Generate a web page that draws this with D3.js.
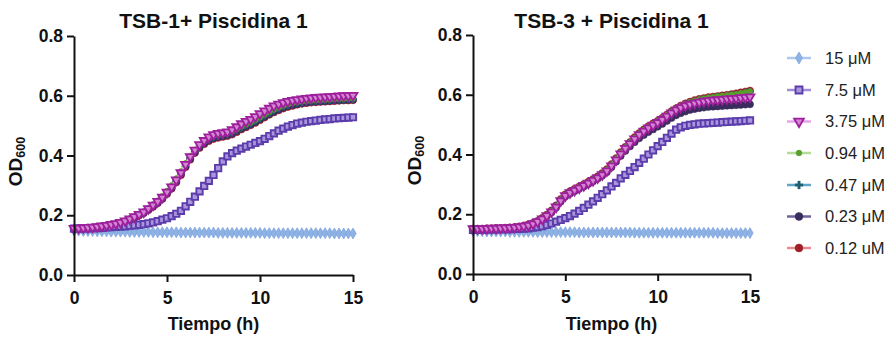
<!DOCTYPE html>
<html><head><meta charset="utf-8">
<script src="https://cdn.jsdelivr.net/npm/d3@7"></script>
<style>
html,body{margin:0;padding:0;background:#fff;}
svg{display:block;font-family:"Liberation Sans",Arial,sans-serif;}
</style></head>
<body>
<svg id="chart" width="893" height="337"></svg>
<script>
// ---- DATA ----
const times = [0,0.25,0.5,0.75,1,1.25,1.5,1.75,2,2.25,2.5,2.75,3,3.25,3.5,3.75,4,4.25,4.5,4.75,5,5.25,5.5,5.75,6,6.25,6.5,6.75,7,7.25,7.5,7.75,8,8.25,8.5,8.75,9,9.25,9.5,9.75,10,10.25,10.5,10.75,11,11.25,11.5,11.75,12,12.25,12.5,12.75,13,13.25,13.5,13.75,14,14.25,14.5,14.75,15];
const seriesNames = ["15 \u03bcM","7.5 \u03bcM","3.75 \u03bcM","0.94 \u03bcM","0.47 \u03bcM","0.23 \u03bcM","0.12 uM"];
const panelTitles = ["TSB-1+ Piscidina 1","TSB-3 + Piscidina 1"];
const xTicks = [0,5,10,15];
const yTicks = [0.0,0.2,0.4,0.6,0.8];
const xLabel = "Tiempo (h)";

// TSB-1 panel
const L15 = [0.148,0.148,0.147,0.147,0.147,0.146,0.146,0.146,0.145,0.145,
0.145,0.145,0.144,0.144,0.144,0.144,0.144,0.143,0.143,0.143,
0.143,0.143,0.143,0.142,0.142,0.142,0.142,0.142,0.142,0.142,
0.142,0.141,0.141,0.141,0.141,0.141,0.141,0.141,0.141,0.141,
0.141,0.140,0.140,0.140,0.140,0.140,0.140,0.140,0.140,0.140,
0.140,0.140,0.140,0.140,0.140,0.140,0.139,0.139,0.139,0.139,0.139];
const L75 = [0.155,0.155,0.156,0.156,0.157,0.157,0.158,0.159,0.160,0.161,
0.162,0.163,0.165,0.166,0.168,0.170,0.173,0.176,0.180,0.185,
0.190,0.197,0.205,0.215,0.230,0.245,0.262,0.280,0.298,0.315,
0.335,0.358,0.380,0.397,0.408,0.416,0.423,0.430,0.436,0.442,
0.448,0.456,0.465,0.474,0.483,0.490,0.497,0.502,0.507,0.510,
0.513,0.515,0.517,0.519,0.521,0.522,0.524,0.525,0.526,0.527,0.528];
const L375 = [0.156,0.157,0.158,0.159,0.160,0.162,0.164,0.166,0.169,0.172,
0.176,0.181,0.188,0.195,0.203,0.211,0.222,0.234,0.246,0.260,
0.277,0.295,0.318,0.342,0.370,0.396,0.418,0.436,0.450,0.462,
0.470,0.474,0.476,0.479,0.486,0.496,0.506,0.514,0.521,0.530,
0.540,0.549,0.558,0.566,0.572,0.577,0.581,0.584,0.587,0.589,
0.591,0.593,0.594,0.595,0.596,0.597,0.598,0.599,0.600,0.600,0.601];
const L094 = [0.156,0.157,0.158,0.159,0.160,0.162,0.164,0.166,0.169,0.172,
0.176,0.181,0.188,0.195,0.203,0.212,0.224,0.237,0.250,0.265,
0.282,0.301,0.324,0.348,0.375,0.399,0.420,0.436,0.448,0.458,
0.465,0.469,0.472,0.475,0.480,0.488,0.496,0.503,0.510,0.518,
0.527,0.536,0.545,0.553,0.560,0.566,0.571,0.575,0.578,0.580,
0.582,0.583,0.584,0.585,0.586,0.587,0.588,0.589,0.589,0.590,0.590];
const L047 = [0.155,0.156,0.157,0.158,0.159,0.161,0.163,0.165,0.168,0.171,
0.175,0.180,0.187,0.194,0.202,0.210,0.221,0.233,0.245,0.259,
0.276,0.294,0.316,0.340,0.367,0.392,0.414,0.431,0.444,0.454,
0.461,0.465,0.468,0.471,0.476,0.484,0.493,0.500,0.507,0.515,
0.524,0.533,0.542,0.550,0.557,0.563,0.568,0.572,0.575,0.577,
0.579,0.581,0.582,0.583,0.584,0.585,0.586,0.587,0.587,0.588,0.588];
const L023 = [0.155,0.156,0.157,0.158,0.159,0.161,0.163,0.165,0.167,0.170,
0.174,0.179,0.185,0.192,0.200,0.208,0.219,0.230,0.242,0.256,
0.273,0.291,0.313,0.337,0.364,0.389,0.411,0.428,0.441,0.451,
0.458,0.462,0.465,0.468,0.473,0.481,0.490,0.497,0.504,0.512,
0.521,0.530,0.539,0.547,0.554,0.560,0.565,0.569,0.572,0.575,
0.577,0.579,0.580,0.581,0.582,0.583,0.584,0.585,0.586,0.586,0.587];
const L012 = [0.154,0.155,0.156,0.157,0.158,0.160,0.162,0.164,0.166,0.169,
0.173,0.178,0.184,0.191,0.199,0.207,0.217,0.228,0.240,0.254,
0.271,0.289,0.310,0.334,0.361,0.386,0.408,0.425,0.438,0.448,
0.455,0.459,0.462,0.465,0.470,0.478,0.487,0.494,0.501,0.509,
0.518,0.527,0.536,0.544,0.551,0.557,0.562,0.566,0.570,0.573,
0.575,0.577,0.578,0.579,0.580,0.581,0.582,0.583,0.584,0.584,0.585];

// TSB-3 panel
const R15 = [0.143,0.143,0.143,0.142,0.142,0.142,0.142,0.142,0.141,0.141,
0.141,0.141,0.141,0.141,0.140,0.140,0.140,0.140,0.140,0.140,
0.140,0.140,0.140,0.139,0.139,0.139,0.139,0.139,0.139,0.139,
0.139,0.139,0.139,0.139,0.139,0.138,0.138,0.138,0.138,0.138,
0.138,0.138,0.138,0.138,0.138,0.138,0.138,0.138,0.138,0.138,
0.138,0.138,0.138,0.137,0.137,0.137,0.137,0.137,0.137,0.137,0.137];
const R75 = [0.148,0.148,0.148,0.149,0.149,0.149,0.150,0.150,0.150,0.151,
0.151,0.152,0.153,0.155,0.157,0.160,0.164,0.169,0.175,0.181,
0.187,0.194,0.202,0.211,0.221,0.232,0.243,0.255,0.267,0.280,
0.293,0.305,0.320,0.332,0.345,0.358,0.372,0.386,0.400,0.414,
0.428,0.442,0.456,0.470,0.483,0.491,0.496,0.499,0.501,0.503,
0.504,0.505,0.506,0.507,0.508,0.509,0.510,0.511,0.512,0.513,0.514];
const R375 = [0.152,0.152,0.152,0.152,0.153,0.153,0.154,0.154,0.155,0.156,
0.158,0.160,0.163,0.168,0.175,0.184,0.195,0.208,0.224,0.245,
0.262,0.272,0.280,0.288,0.296,0.304,0.313,0.322,0.332,0.345,
0.362,0.382,0.402,0.420,0.436,0.452,0.466,0.478,0.489,0.498,
0.507,0.517,0.528,0.539,0.549,0.557,0.563,0.568,0.572,0.575,
0.578,0.580,0.582,0.583,0.584,0.586,0.587,0.588,0.590,0.591,0.593];
const R094 = [0.152,0.152,0.152,0.152,0.153,0.153,0.154,0.155,0.156,0.157,
0.159,0.161,0.165,0.170,0.177,0.187,0.198,0.212,0.229,0.250,
0.266,0.276,0.284,0.292,0.300,0.308,0.317,0.326,0.337,0.350,
0.367,0.387,0.407,0.425,0.441,0.457,0.471,0.483,0.494,0.503,
0.512,0.522,0.533,0.544,0.554,0.563,0.570,0.576,0.581,0.585,
0.588,0.591,0.593,0.595,0.597,0.599,0.601,0.603,0.606,0.609,0.612];
const R047 = [0.151,0.151,0.151,0.152,0.152,0.153,0.153,0.154,0.155,0.156,
0.158,0.160,0.164,0.169,0.176,0.186,0.197,0.211,0.228,0.248,
0.264,0.274,0.282,0.290,0.298,0.306,0.315,0.324,0.335,0.348,
0.365,0.385,0.405,0.423,0.439,0.455,0.469,0.481,0.492,0.501,
0.510,0.520,0.531,0.542,0.552,0.561,0.568,0.574,0.579,0.583,
0.586,0.589,0.591,0.593,0.595,0.597,0.599,0.601,0.604,0.607,0.610];
const R023 = [0.150,0.150,0.150,0.151,0.151,0.152,0.152,0.153,0.154,0.155,
0.157,0.159,0.162,0.167,0.173,0.182,0.193,0.206,0.222,0.242,
0.259,0.269,0.277,0.285,0.293,0.301,0.310,0.319,0.329,0.341,
0.357,0.376,0.395,0.412,0.427,0.441,0.454,0.465,0.475,0.484,
0.493,0.502,0.512,0.522,0.531,0.538,0.544,0.549,0.552,0.555,
0.557,0.559,0.560,0.561,0.562,0.563,0.564,0.565,0.566,0.567,0.568];
const R012 = [0.152,0.152,0.152,0.153,0.153,0.154,0.154,0.155,0.156,0.157,
0.159,0.162,0.166,0.171,0.178,0.188,0.199,0.213,0.230,0.251,
0.267,0.277,0.285,0.293,0.301,0.309,0.318,0.327,0.338,0.351,
0.368,0.388,0.408,0.426,0.442,0.458,0.472,0.484,0.495,0.504,
0.513,0.523,0.534,0.545,0.555,0.564,0.571,0.577,0.582,0.586,
0.589,0.592,0.594,0.596,0.598,0.600,0.602,0.605,0.608,0.611,0.614];

const panelData = [
  [L15, L75, L375, L094, L047, L023, L012],
  [R15, R75, R375, R094, R047, R023, R012]
];

// ---- STYLES ----
const styles = [
  {line:"#adc8ee", stroke:"#7ea6de", fill:"#8fb2e4", sym:d3.symbolDiamond, size:34, rot:0, sw:0.8},
  {line:"#a18dd8", stroke:"#5b3cab", fill:"#ab96de", sym:d3.symbolSquare, size:40, rot:0, sw:1.9},
  {line:"#e6a4e8", stroke:"#9e1f9c", fill:"#d385d4", sym:d3.symbolTriangle, size:34, rot:180, sw:1.8},
  {line:"#b2dc98", stroke:"#5a9e2c", fill:"#5a9e2c", sym:d3.symbolCircle, size:22, rot:0, sw:0.5},
  {line:"#5fa6c2", stroke:"#1f5d72", fill:"#1f5d72", sym:d3.symbolCross, size:28, rot:0, sw:0.3},
  {line:"#6f659c", stroke:"#3a2c5c", fill:"#3a2c5c", sym:d3.symbolCircle, size:40, rot:0, sw:0.5},
  {line:"#e68c8c", stroke:"#a01e26", fill:"#a01e26", sym:d3.symbolCircle, size:40, rot:0, sw:0.5}
];
const drawOrder = [0,6,5,4,3,1,2];

const svg = d3.select("#chart");
const panels = [
  {x0:74, x1:353, y0:275, y1:36},
  {x0:473, x1:750, y0:274, y1:35}
];

panels.forEach((p, pi) => {
  const x = d3.scaleLinear().domain([0,15]).range([p.x0, p.x1]);
  const y = d3.scaleLinear().domain([0,0.8]).range([p.y0, p.y1]);
  const g = svg.append("g");

  // series
  drawOrder.forEach(si => {
    const vals = panelData[pi][si];
    const st = styles[si];
    const pts = times.map((t,i) => [t, vals[i]]);
    g.append("path")
      .attr("d", d3.line().x(d=>x(d[0])).y(d=>y(d[1]))(pts))
      .attr("fill","none").attr("stroke", st.line).attr("stroke-width",2);
    const sym = d3.symbol().type(st.sym).size(st.size);
    g.append("g").selectAll("path").data(pts).join("path")
      .attr("d", sym)
      .attr("transform", d => `translate(${x(d[0])},${y(d[1])}) rotate(${st.rot})`)
      .attr("fill", st.fill).attr("stroke", st.stroke).attr("stroke-width", st.sw);
  });

  // axes
  const xa = g.append("g").attr("transform",`translate(0,${p.y0})`)
    .call(d3.axisBottom(x).tickValues(xTicks).tickSize(7).tickSizeOuter(0).tickPadding(10).tickFormat(d3.format("d")));
  const ya = g.append("g").attr("transform",`translate(${p.x0},0)`)
    .call(d3.axisLeft(y).tickValues(yTicks).tickSize(7).tickSizeOuter(0).tickPadding(4).tickFormat(d3.format(".1f")));
  [xa, ya].forEach(a => {
    a.select(".domain").attr("stroke","#111").attr("stroke-width",2);
    a.selectAll(".tick line").attr("stroke","#111").attr("stroke-width",2);
    a.selectAll(".tick text").attr("fill","#111").style("font-size","17.5px").style("font-weight","bold");
  });

  const cx = (p.x0 + p.x1)/2;
  // title
  svg.append("text").attr("x", cx).attr("y", 28).attr("text-anchor","middle")
    .style("font-size","21px").style("font-weight","bold").attr("fill","#111")
    .text(panelTitles[pi]);
  // x label
  svg.append("text").attr("x", cx).attr("y", 330).attr("text-anchor","middle")
    .style("font-size","18px").style("font-weight","bold").attr("fill","#111")
    .text(xLabel);
  // y label
  const yl = svg.append("text")
    .attr("transform", `translate(${p.x0 - 52},${(p.y0+p.y1)/2 + 6}) rotate(-90)`)
    .attr("text-anchor","middle")
    .style("font-size","19px").style("font-weight","bold").attr("fill","#111");
  yl.append("tspan").text("OD");
  yl.append("tspan").attr("dy", 3).style("font-size","12.5px").text("600");
});

// legend
const legendY = [58,90,121.5,153,185,216.5,248];
const lg = svg.append("g");
seriesNames.forEach((name, i) => {
  const st = styles[i];
  const yy = legendY[i];
  lg.append("line").attr("x1",787).attr("x2",811).attr("y1",yy).attr("y2",yy)
    .attr("stroke", st.line).attr("stroke-width",2.5);
  lg.append("path").attr("d", d3.symbol().type(st.sym).size(st.size*1.2)())
    .attr("transform", `translate(799,${yy}) rotate(${st.rot})`)
    .attr("fill", st.fill).attr("stroke", st.stroke).attr("stroke-width", st.sw);
  lg.append("text").attr("x", 825).attr("y", yy).attr("dy","0.35em")
    .style("font-size","16.5px").attr("fill","#222").text(name);
});
</script>
</body></html>
